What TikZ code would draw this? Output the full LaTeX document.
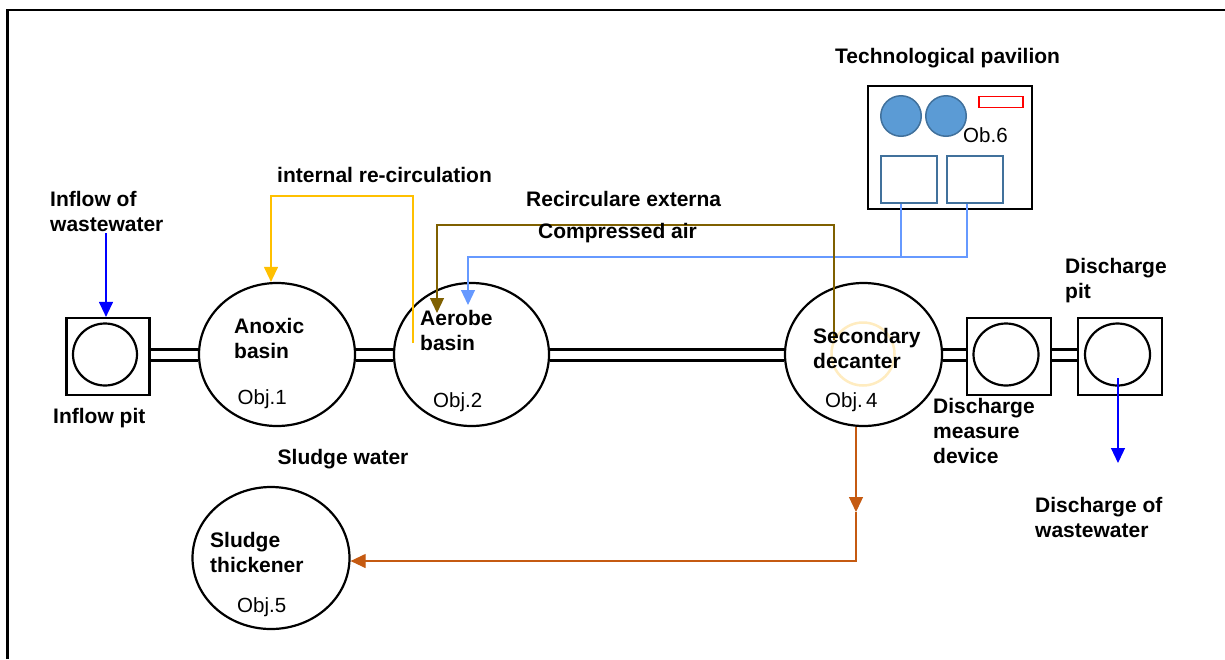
\documentclass[tikz,border=0pt]{standalone}
\usepackage{fontspec}
\setmainfont{Liberation Sans}
\usetikzlibrary{shapes.geometric,arrows.meta,calc}
\definecolor{cyellow}{HTML}{FFC000}
\definecolor{cbrown}{HTML}{7F6000}
\definecolor{clblue}{HTML}{6699FF}
\definecolor{cblue}{HTML}{0000FF}
\definecolor{corange}{HTML}{C55A11}
\definecolor{pfill}{HTML}{5B9BD5}
\definecolor{pline}{HTML}{41719C}
\definecolor{cring}{HTML}{FFECC0}
\newcommand\mlines[1]{\begin{tabular}[t]{@{}l@{}}#1\end{tabular}}
\newcommand\mypipe[2]{%
  \draw[pipeline] (#1.east |- pu) -- (#2.west |- pu);
  \draw[pipeline] (#1.east |- pd) -- (#2.west |- pd);}
\begin{document}
\begin{tikzpicture}[x=1pt,y=-1pt,
  lbl/.style={anchor=base west,inner sep=0pt,font=\fontsize{21}{25}\selectfont\bfseries},
  obj/.style={anchor=base west,inner sep=0pt,font=\fontsize{20.5}{25}\selectfont},
  basin/.style={ellipse,draw=black,line width=2.2pt,fill=white,inner sep=0pt,minimum width=156pt,minimum height=143pt},
  pitbox/.style={rectangle,draw=black,line width=2.2pt,fill=white,inner sep=0pt,minimum width=83pt,minimum height=77pt},
  pitcirc/.style={ellipse,draw=black,line width=2.2pt,inner sep=0pt,minimum width=64pt,minimum height=62pt},
  pipeline/.style={line width=2.6pt},
  flow/.style={line width=1.2pt,-{Triangle[length=15pt,width=14pt]}}]
\useasboundingbox (0,0) rectangle (1225,659);
\draw[line width=2.5pt] (7.5,659) -- (7.5,10) -- (1225,10);

% main row
\node[pitbox] (inbox) at (108,356.5) {};
\node[pitcirc] (incirc) at (105,354.5) {};
\node[basin] (anox) at (277,354.5) {};
\node[basin,minimum width=155pt] (aero) at (471.5,354.5) {};
\node[basin,minimum width=157pt] (dec) at (863.5,354.5) {};
\node[circle,draw=cring,line width=2.5pt,minimum size=63pt,inner sep=0pt] (decring) at (863,354) {};
\node[pitbox,minimum width=84pt] (mbox) at (1009,356.5) {};
\node[pitcirc,minimum width=65pt] (mcirc) at (1006,354.5) {};
\node[pitbox,minimum width=84pt] (dbox) at (1120,356.5) {};
\node[pitcirc,minimum width=65pt] (dcirc) at (1117.5,354.5) {};
\node[basin,minimum width=157pt,minimum height=142pt] (thk) at (271,558) {};

\coordinate (pu) at (0,349.5);
\coordinate (pd) at (0,360.5);
\mypipe{inbox}{anox}
\mypipe{anox}{aero}
\mypipe{aero}{dec}
\mypipe{dec}{mbox}
\mypipe{mbox}{dbox}

% technological pavilion
\node[draw=black,line width=2.5pt,minimum width=164pt,minimum height=123pt,inner sep=0pt] (pav) at (950,147.5) {};
\node[circle,fill=pfill,draw=pline,line width=1.5pt,minimum size=40.5pt,inner sep=0pt] (pc1) at (901,116) {};
\node[circle,fill=pfill,draw=pline,line width=1.5pt,minimum size=40.5pt,inner sep=0pt] (pc2) at (946,116) {};
\node[draw=red,line width=1.5pt,minimum width=44pt,minimum height=11pt,inner sep=0pt] (prect) at (1001,102.2) {};
\node[draw=pline,line width=1.5pt,minimum width=56pt,minimum height=47pt,inner sep=0pt] (sq1) at (909,179.5) {};
\node[draw=pline,line width=1.5pt,minimum width=56pt,minimum height=47pt,inner sep=0pt] (sq2) at (975,179.5) {};
\node[obj] (ob6) at (963,142) {Ob.6};

% connectors
\coordinate (j1) at (901,257);
\coordinate (j2) at (967,257);
\coordinate (j3) at (468,257);
\coordinate (t3) at (468,305);
\draw[clblue,line width=1.2pt] (sq1.south -| j1) -- (j1);
\draw[clblue,flow] (sq2.south -| j2) -- (j2) -- (j3) -- (t3);

\coordinate (b0) at (834,340);
\coordinate (b1) at (834,225);
\coordinate (b2) at (437,225);
\coordinate (b3) at (437,313);
\draw[cbrown,flow] (b0) -- (b1) -- (b2) -- (b3);

\coordinate (y0) at (413,343);
\coordinate (y1) at (413,196);
\coordinate (y2) at (271,196);
\draw[cyellow,flow] (y0) -- (y1) -- (y2) -- (anox.north -| y2);

\coordinate (i0) at (106,233);
\draw[cblue,flow] (i0) -- (inbox.north -| i0);

\coordinate (d0) at (1118,378);
\coordinate (d1) at (1118,463);
\draw[cblue,flow] (d0) -- (d1);

\coordinate (o1) at (856,512);
\coordinate (o2) at (856,561);
\draw[corange,flow] (dec.south -| o1) -- (o1);
\draw[corange,flow] (o1) -- (o2) -- (thk.east |- o2);

% labels
\node[lbl] (tinflow) at (50,206) {\mlines{Inflow of\\wastewater}};
\node[lbl] (tinpit) at (53,423) {Inflow pit};
\node[lbl] (tanox) at (234,333) {\mlines{Anoxic\\basin}};
\node[obj] (o1l) at (237.5,404) {Obj.1};
\node[lbl] (taero) at (420,325) {\mlines{Aerobe\\basin}};
\node[obj] (o2l) at (433,407) {Obj.2};
\node[lbl] (tdec) at (813,343) {\mlines{Secondary\\decanter}};
\node[obj] (o4l) at (825,407) {Obj.\,4};
\node[lbl] (tmeas) at (933,413) {\mlines{Discharge\\measure\\device}};
\node[lbl] (tdpit) at (1065,273) {\mlines{Discharge\\pit}};
\node[lbl] (tdout) at (1035,512) {\mlines{Discharge of\\wastewater}};
\node[lbl] (tint) at (277,182) {internal re-circulation};
\node[lbl] (trec) at (526,206) {Recirculare externa};
\node[lbl] (tair) at (538,238) {Compressed air};
\node[lbl] (tpav) at (835,63) {Technological pavilion};
\node[lbl] (tsw) at (277.5,464) {Sludge water};
\node[lbl] (tthk) at (210,547) {\mlines{Sludge\\thickener}};
\node[obj] (o5l) at (237,612) {Obj.5};
\end{tikzpicture}
\end{document}
